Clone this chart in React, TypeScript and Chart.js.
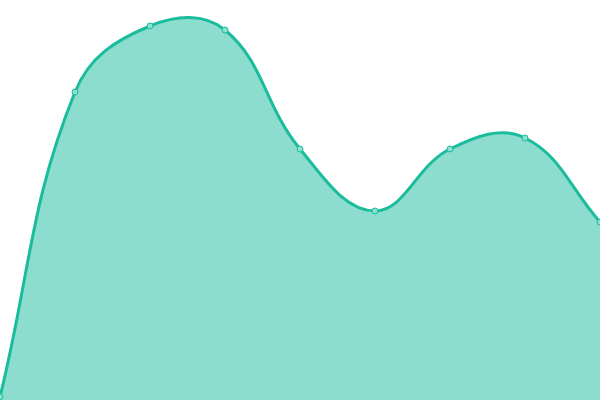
import React, { useEffect, useRef } from "react";
import { Chart, registerables } from "chart.js";

Chart.register(...registerables);

const labels = ["1", "2", "3", "4", "5", "6", "7", "8", "9"];
const values = [0.8, 77, 93.5, 92.5, 62.75, 47.25, 62.75, 65.5, 44.5];

export default function App() {
  const ref = useRef<HTMLCanvasElement>(null);
  useEffect(() => {
    if (!ref.current) return;
    const chart = new Chart(ref.current, {
      type: "line",
      data: {
        labels,
        datasets: [
          {
            data: values,
            borderColor: "#1abc9c",
            backgroundColor: "rgba(26,188,156,0.5)",
            pointBackgroundColor: "rgba(140,224,207,1)",
            pointBorderColor: "#1abc9c",
            pointBorderWidth: 1,
            pointRadius: 3,
            borderWidth: 3,
            fill: "origin",
            tension: 0.4,
          },
        ],
      },
      options: {
        animation: false,
        responsive: true,
        maintainAspectRatio: false,
        layout: { padding: 0 },
        plugins: { legend: { display: false }, tooltip: { enabled: false } },
        scales: {
          x: { display: false, offset: false },
          y: { display: false, min: 0, max: 100 },
        },
      },
    });
    return () => chart.destroy();
  }, []);
  return (
    <div style={{ position: "fixed", left: -5, top: -5, width: 610, height: 410 }}>
      <canvas ref={ref} />
    </div>
  );
}
